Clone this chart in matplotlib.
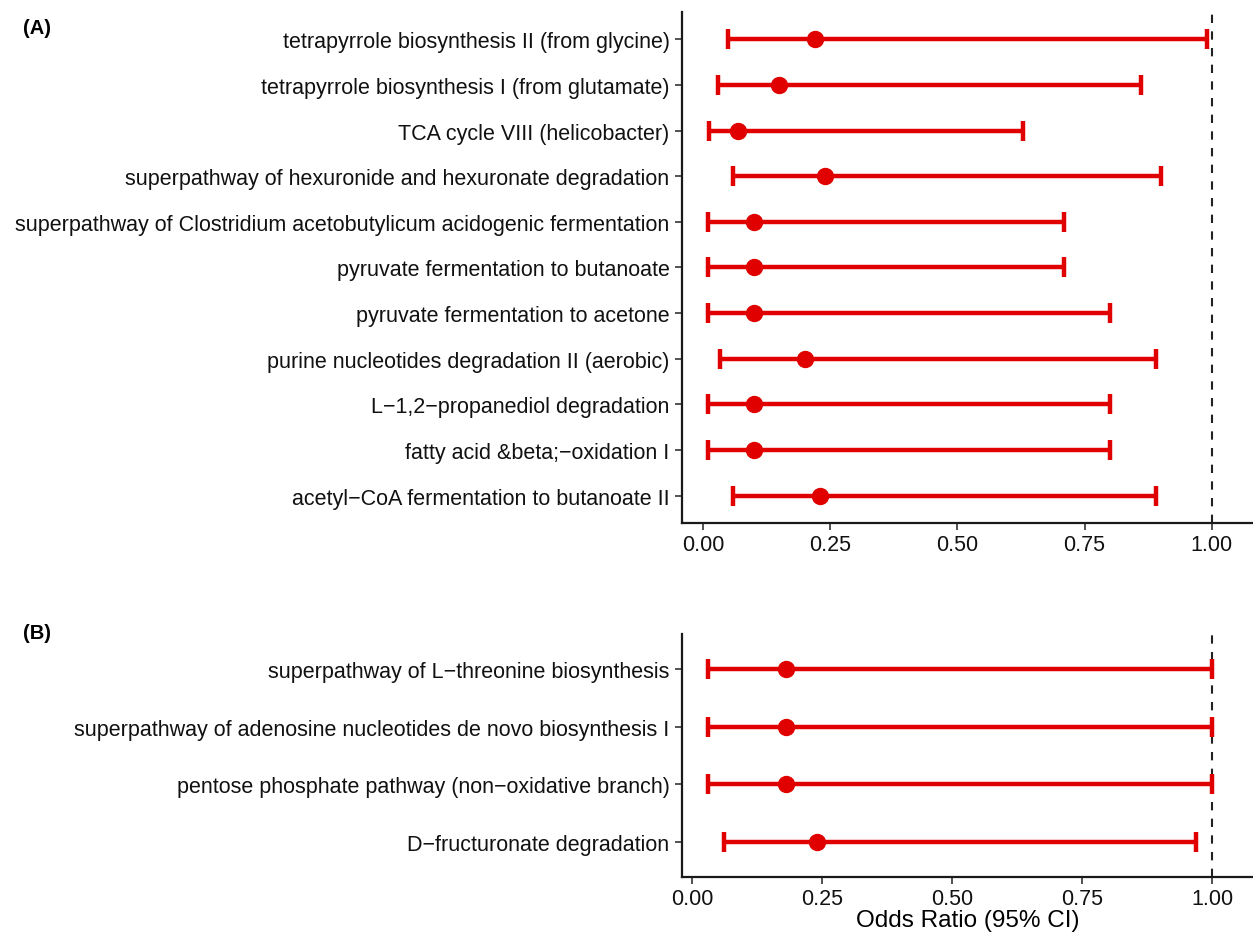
import matplotlib
matplotlib.use('Agg')
import matplotlib.pyplot as plt

plt.rcParams['font.family'] = ['Liberation Sans', 'DejaVu Sans']

# panel A (top to bottom)
labels_a = ["tetrapyrrole biosynthesis II (from glycine)",
            "tetrapyrrole biosynthesis I (from glutamate)",
            "TCA cycle VIII (helicobacter)",
            "superpathway of hexuronide and hexuronate degradation",
            "superpathway of Clostridium acetobutylicum acidogenic fermentation",
            "pyruvate fermentation to butanoate",
            "pyruvate fermentation to acetone",
            "purine nucleotides degradation II (aerobic)",
            "L\u22121,2\u2212propanediol degradation",
            "fatty acid &beta;\u2212oxidation I",
            "acetyl\u2212CoA fermentation to butanoate II"]
or_a = [0.22, 0.15, 0.07, 0.24, 0.10, 0.10, 0.10, 0.20, 0.10, 0.10, 0.23]
lo_a = [0.05, 0.03, 0.013, 0.06, 0.01, 0.01, 0.01, 0.033, 0.01, 0.01, 0.06]
hi_a = [0.99, 0.86, 0.63, 0.90, 0.71, 0.71, 0.80, 0.89, 0.80, 0.80, 0.89]

# panel B (top to bottom)
labels_b = ["superpathway of L\u2212threonine biosynthesis",
            "superpathway of adenosine nucleotides de novo biosynthesis I",
            "pentose phosphate pathway (non\u2212oxidative branch)",
            "D\u2212fructuronate degradation"]
or_b = [0.18, 0.18, 0.18, 0.24]
lo_b = [0.03, 0.03, 0.03, 0.06]
hi_b = [1.0, 1.0, 1.0, 0.97]

ticks = [0.0, 0.25, 0.5, 0.75, 1.0]
tick_labels = ["0.00", "0.25", "0.50", "0.75", "1.00"]

red = '#E00000'

fig = plt.figure(figsize=(12.53, 9.37), dpi=100)
ax_a = fig.add_axes([0.5443, 0.4408, 0.4557, 0.5453])
ax_b = fig.add_axes([0.5443, 0.0630, 0.4557, 0.2593])


def draw(ax, labels, est, lo, hi, xlim):
    n = len(labels)
    y = [n - i for i in range(n)]
    ax.axvline(1.0, color='#222222', linestyle=(0, (4, 4)), linewidth=1.5, zorder=1)
    xerr = [[e - l for e, l in zip(est, lo)], [h - e for e, h in zip(est, hi)]]
    ax.errorbar(est, y, xerr=xerr, fmt='o', color=red, ecolor=red,
                elinewidth=3.2, capsize=7, capthick=3.2, markersize=11.5, zorder=3)
    ax.set_yticks(y)
    ax.set_yticklabels(labels, fontsize=15.5, color='#111111')
    ax.set_ylim(0.4, n + 0.6)
    ax.set_xlim(*xlim)
    ax.set_xticks(ticks)
    ax.set_xticklabels(tick_labels, fontsize=15.5, color='#111111')
    for s in ['top', 'right']:
        ax.spines[s].set_visible(False)
    for s in ['left', 'bottom']:
        ax.spines[s].set_linewidth(1.6)
        ax.spines[s].set_color('#1a1a1a')
    ax.tick_params(axis='y', length=5, width=1.2, color='#333333', pad=4)
    ax.tick_params(axis='x', length=5, width=1.2, color='#333333', pad=3)


draw(ax_a, labels_a, or_a, lo_a, hi_a, (-0.041, 1.081))
draw(ax_b, labels_b, or_b, lo_b, hi_b, (-0.020, 1.079))
ax_b.set_xlabel("Odds Ratio (95% CI)", fontsize=17.5, labelpad=0)

fig.text(0.018, 0.964, "(A)", fontsize=14.5, fontweight='bold')
fig.text(0.018, 0.318, "(B)", fontsize=14.5, fontweight='bold')

plt.savefig("out.png", dpi=100, facecolor='white')
